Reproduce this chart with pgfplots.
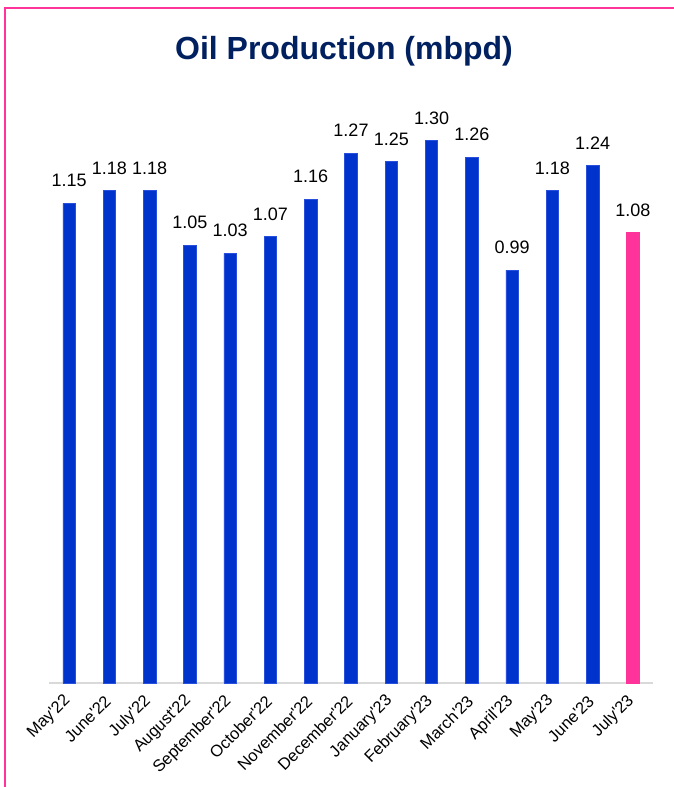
\documentclass[border=0pt]{standalone}
\usepackage{fontspec}
\setmainfont{Liberation Sans}
\newfontfamily\labfont{Liberation Sans}
\usepackage{pgfplots}
\pgfplotsset{compat=1.18}
\definecolor{barblue}{RGB}{0,51,204}
\definecolor{baredge}{RGB}{40,80,220}
\definecolor{barpink}{RGB}{255,51,153}
\definecolor{titlenavy}{RGB}{0,32,96}
\definecolor{axisgray}{RGB}{217,217,217}
\begin{document}
\begin{tikzpicture}[x=1pt,y=1pt]
\useasboundingbox (0,0) rectangle (674,-787);
\draw[barpink, line width=1.5pt] (5,-787) -- (5,-8) -- (674,-8);
\node[font=\fontsize{32}{36}\selectfont\bfseries, text=titlenavy, anchor=base, inner sep=0pt] at (344,-59) {Oil Production (mbpd)};
\begin{axis}[
  at={(49pt,-683pt)}, anchor=south west,
  scale only axis, width=604pt, height=584pt,
  xmin=-0.5, xmax=14.5, ymin=0, ymax=1.4,
  axis x line*=bottom, axis y line=none,
  x axis line style={-, draw=axisgray, line width=1.5pt},
  xtick={0,...,14},
  xticklabels={May'22,June'22,July'22,August'22,September'22,October'22,November'22,December'22,January'23,February'23,March'23,April'23,May'23,June'23,July'23},
  xticklabel style={yshift=-13pt, xshift=1pt, rotate=45, anchor=east, font=\labfont\fontsize{16.5}{19}\selectfont},
  major tick length=0pt,
  ybar, bar width=12.5pt, bar shift=0pt,
  clip=false,
  /pgf/number format/assume math mode=true,
  /pgf/number format/fixed,
  /pgf/number format/fixed zerofill,
  /pgf/number format/precision=2,
  nodes near coords,
  every node near coord/.append style={font=\fontsize{18}{20}\selectfont, anchor=south, inner sep=0pt, yshift=16pt, text=black},
]
\addplot[fill=barblue, draw=baredge, line width=0.6pt] coordinates {
 (0,1.15) (1,1.18) (2,1.18) (3,1.05) (4,1.03) (5,1.07) (6,1.16)
 (7,1.27) (8,1.25) (9,1.30) (10,1.26) (11,0.99) (12,1.18) (13,1.24)};
\addplot[fill=barpink, draw=barpink, line width=0.6pt] coordinates {(14,1.08)};
\end{axis}
\end{tikzpicture}
\end{document}
